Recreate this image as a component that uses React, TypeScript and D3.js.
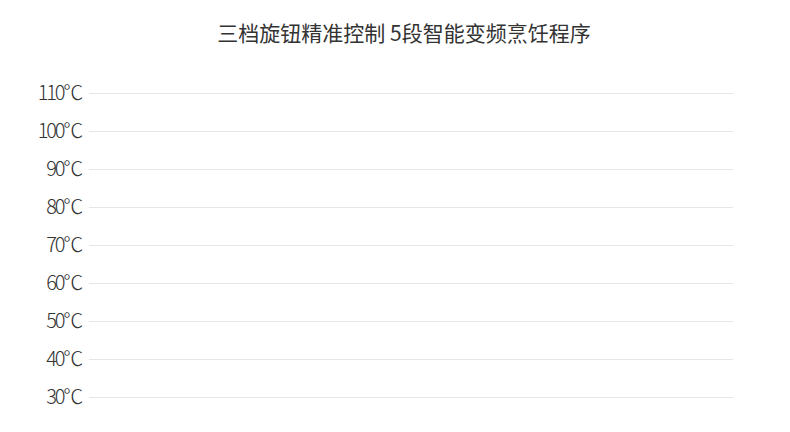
import React from "react";
import * as d3 from "d3";

const title = "三档旋钮精准控制 5段智能变频烹饪程序";
const yTicks = [30, 40, 50, 60, 70, 80, 90, 100, 110];
const yDomain = [30, 110];

const W = 790;
const H = 432;
const left = 89;
const right = 733;
const top = 93;
const bottom = 397;

export default function App() {
  const y = d3.scaleLinear().domain(yDomain).range([bottom, top]);
  return (
    <svg
      width={W}
      height={H}
      style={{ position: "absolute", left: 0, top: 0, background: "#fff" }}
      fontFamily="'Noto Sans CJK SC', 'Noto Sans', sans-serif"
    >
      <text x={404} y={41} textAnchor="middle" fontSize={21} fill="#333" fontWeight={400}>
        {title}
      </text>
      {yTicks.map((t) => (
        <g key={t}>
          <line x1={left} x2={right} y1={y(t) + 0.5} y2={y(t) + 0.5} stroke="#e6e6e6" strokeWidth={1} />
          <text
            x={81}
            y={y(t)}
            dy="0.36em"
            textAnchor="end"
            fontSize={20}
            fill="#333"
            fontWeight={300}
            letterSpacing={-2.2}
          >
            {`${t}℃`}
          </text>
        </g>
      ))}
    </svg>
  );
}
